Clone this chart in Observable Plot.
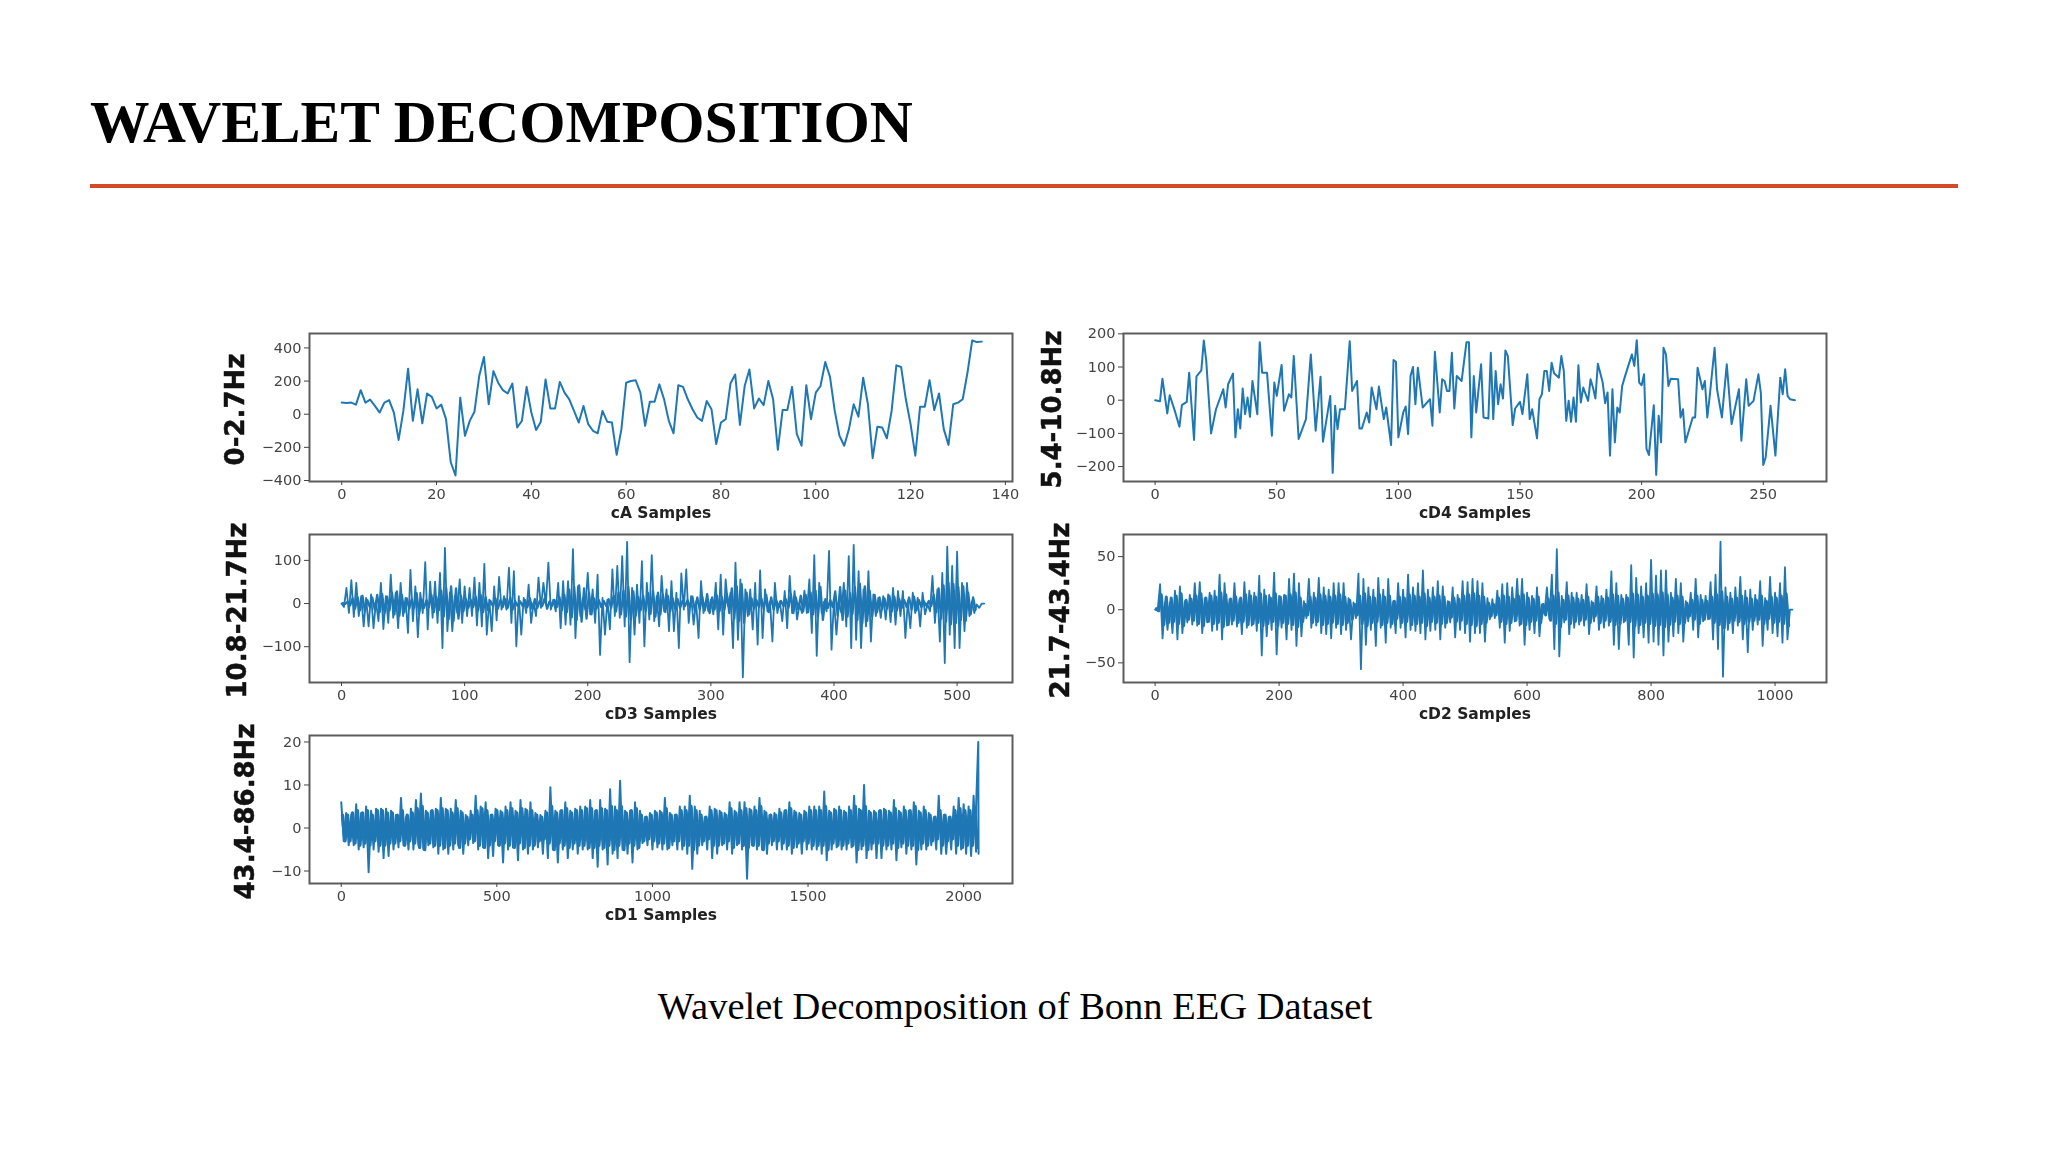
<!DOCTYPE html>
<html><head><meta charset="utf-8">
<script src="https://cdn.jsdelivr.net/npm/d3@7"></script>
<script src="https://cdn.jsdelivr.net/npm/@observablehq/plot@0.6"></script>
<style>
html,body{margin:0;padding:0;background:#fff;}
#page{position:relative;width:2048px;height:1152px;overflow:hidden;background:#fff;}
#title{position:absolute;left:90px;top:85px;font:bold 59.5px "Liberation Serif",serif;color:#000;white-space:nowrap;line-height:74px;}
#rule{position:absolute;left:90px;top:184px;width:1868px;height:4px;background:#d24a26;}
#caption{position:absolute;left:0;width:2030px;top:983px;text-align:center;font:38.5px "Liberation Serif",serif;color:#000;line-height:46px;}
.panel{position:absolute;filter:blur(0.6px);}
</style></head><body>
<div id="page">
<div id="title">WAVELET DECOMPOSITION</div>
<div id="rule"></div>
<div id="caption">Wavelet Decomposition of Bonn EEG Dataset</div>
</div>
<script>
const cAY=[70,68,70,58,145,70,88,50,10,70,85,10,-155,20,275,-40,150,-55,125,105,35,58,-30,-290,-370,100,-130,-40,15,230,345,60,260,190,145,125,185,-80,-40,165,10,-95,-45,210,35,35,195,130,90,20,-50,50,-60,-100,-115,20,-45,-50,-245,-90,190,200,205,130,-70,75,75,180,90,-40,-115,175,165,90,30,-20,-40,80,30,-180,-50,-30,185,240,-65,170,270,35,95,55,200,90,-215,25,25,165,-120,-190,175,-30,130,170,315,225,20,-130,-190,-90,60,-15,220,60,-265,-75,-80,-145,20,295,285,90,-60,-250,45,45,205,25,125,-90,-185,60,70,90,250,445,435,438];

const cD4X=[0,2,3,5,6,8,10,11,13,14,16,17,19,20,21,23,25,28,29,30,32,33,34,35,36,37,38,39,40,42,43,44,46,48,49,50,52,53,55,56,57,59,62,64,66,68,69,72,73,74,75,76,78,80,81,83,84,85,87,88,89,91,92,94,95,97,98,99,100,102,103,104,105,106,107,108,110,113,114,115,117,118,119,120,121,122,123,124,126,128,129,130,131,132,134,135,137,138,139,140,141,142,143,144,145,147,148,150,151,153,154,155,157,158,159,160,161,162,163,164,166,167,168,169,170,171,172,173,174,175,176,178,179,180,181,182,184,185,186,187,188,189,190,191,192,193,196,197,198,199,200,201,202,203,205,206,207,208,209,210,211,212,215,216,217,218,221,222,223,225,226,227,228,230,231,233,235,237,238,240,241,243,244,246,248,249,250,251,253,255,257,258,259,260,261,263];
const cD4Y=[0,-3,65,-40,15,-30,-80,-15,-5,83,-120,72,90,180,120,-100,-28,33,-22,48,80,-112,-27,-85,35,-42,8,-50,58,-42,175,83,83,-107,53,13,106,-32,18,8,133,-117,-57,138,-92,71,-125,13,-219,-17,-87,-27,-27,178,28,58,-85,-85,-37,-67,38,-27,41,-57,-22,-135,121,116,-112,-37,-19,-102,73,100,-12,98,-22,3,-77,146,-37,63,58,28,28,143,-25,73,58,175,175,-112,73,-37,108,-52,-55,143,-57,88,-12,48,5,150,133,-75,-25,-5,-42,78,-57,-27,-115,3,18,88,88,28,113,81,68,133,88,-62,-2,-65,8,-65,105,-7,38,-2,63,38,5,110,53,-9,23,-167,33,-127,-22,-37,43,68,138,103,181,53,45,78,-147,-165,-15,-225,-47,-127,158,138,43,65,63,-52,-27,-127,-52,-52,98,33,58,-52,13,158,33,-52,108,-72,-37,33,-122,63,-17,-2,78,23,-195,-172,-17,-167,68,18,93,13,3,0];

const cD3Step=4;
const cD3Top=[0,36,54,48,17,13,21,5,48,17,67,25,48,13,78,40,25,96,51,51,71,129,25,17,56,40,36,60,48,92,9,40,62,17,83,75,17,13,44,2,60,48,95,9,48,52,52,126,40,13,71,33,67,13,9,79,87,110,143,36,44,98,48,112,17,64,33,52,25,70,79,17,5,52,5,9,48,67,56,25,95,56,33,33,48,77,33,5,48,5,29,64,29,-2,30,56,112,48,5,122,9,2,48,110,136,75,33,75,21,13,17,21,36,29,29,5,25,13,25,-2,64,33,71,132,87,120,48,48,5,-2,0];
const cD3Bottom=[-8,-22,-31,-29,-53,-53,-57,-41,-59,-45,-33,-57,-29,-68,-41,-78,-22,-60,-33,-45,-103,-64,-64,-22,-45,-29,-29,-51,-53,-72,-64,-39,-14,-14,-45,-99,-72,-22,-45,-29,-10,-2,-14,-18,-57,-49,-49,-80,-29,-14,-25,-45,-119,-72,-60,-29,-33,-53,-136,-72,-45,-99,-37,-41,-53,-18,-64,-64,-103,-14,-45,-49,-80,-22,-18,-25,-60,-72,-6,-103,-84,-171,-29,-60,-95,-80,-18,-88,-22,-41,-57,-22,-37,-22,-22,-68,-121,-22,-18,-107,-72,-22,-53,-103,-84,-103,-53,-88,-29,-33,-37,-43,-49,-29,-80,-57,-22,-53,-25,-18,-45,-88,-138,-72,-103,-103,-64,-29,-22,-10,0];
const cD3Mass=[1,4,12,15,18,8,14,20,22,16,25,28,20,12,10,24,10,8,20,16,30,36,40,35,18,10,8,16,20,15,6,12,8,10,14,6,5,8,12,10,6,12,5,8,15,20,32,38,42,35,25,12,8,6,10,18,25,30,38,28,15,18,24,30,25,20,18,12,10,6,8,16,14,16,22,14,18,14,22,35,40,45,25,12,8,12,20,14,8,6,10,22,14,18,20,25,30,38,10,8,28,38,30,24,38,46,40,30,20,14,12,18,16,10,8,14,16,8,5,6,20,35,42,48,45,38,40,25,14];

const cD2Step=8;
const cD2Top=[0,24,7,7,18,22,8,14,25,26,11,16,18,33,25,10,25,10,26,18,16,32,19,14,35,13,14,29,34,25,8,29,16,30,21,19,25,25,25,11,7,34,29,21,19,30,19,29,8,25,19,33,21,25,37,19,21,27,22,8,21,14,27,26,29,27,25,11,10,18,24,25,21,29,29,16,13,21,5,21,33,57,13,26,16,16,14,24,8,22,13,19,36,25,14,14,42,30,22,25,47,32,37,37,16,29,25,8,16,29,14,13,26,33,64,21,16,21,31,18,19,14,27,11,31,16,25,40,0];
const cD2Bottom=[-1,-27,-19,-22,-28,-22,-12,-14,-15,-22,-12,-20,-19,-28,-15,-14,-16,-23,-17,-15,-20,-43,-25,-19,-42,-17,-28,-19,-34,-25,-8,-17,-15,-22,-23,-27,-17,-23,-19,-28,-8,-56,-33,-19,-34,-17,-31,-17,-22,-17,-26,-19,-20,-22,-28,-20,-19,-28,-17,-12,-26,-19,-22,-30,-22,-22,-30,-9,-8,-17,-31,-20,-11,-15,-33,-19,-22,-25,-4,-9,-37,-44,-12,-23,-17,-14,-15,-23,-11,-19,-17,-15,-33,-37,-12,-33,-45,-22,-26,-31,-30,-33,-43,-30,-25,-22,-30,-11,-19,-26,-11,-9,-28,-37,-63,-19,-22,-15,-28,-40,-19,-14,-34,-19,-22,-25,-31,-28,0];
const cD2Mass=[1,14,12,11,13,15,9,10,13,15,11,13,12,16,14,10,12,11,14,13,12,15,13,11,15,12,13,14,16,11,5,12,11,14,13,12,13,14,12,9,5,13,15,12,11,14,12,13,8,12,11,14,13,12,15,11,12,13,12,7,11,10,13,14,15,13,12,6,5,11,13,12,10,13,14,11,10,12,5,10,13,16,9,13,11,10,9,12,6,12,10,11,14,13,10,11,15,14,12,13,15,14,16,14,11,13,12,6,9,13,9,8,12,14,17,12,10,11,13,11,10,9,13,8,12,11,13,15];

const cD1Step=16;
const cD1Top=[6,3.5,3,5.5,3.5,5,4,4.5,4.5,4.5,4,3,7,2.5,4.5,6.5,8,4,4,4.5,7,4.5,4.5,6.5,4,3,4,7.5,5,6,3,4.5,4,5,6,4,6.5,4.5,6,3.5,3,4,9.5,4,4,6,4,4.5,5,5,6.5,4,6.5,4.5,9,5,11,4,4,6,4,2.5,3.5,4,4,7,3.5,3,5,5,7.5,5,4,2.5,5,4.5,4,3.5,6,4,6,6,4.5,5,7,4,3,3.5,4.5,4,6,4,3.5,4,5,5,5,8.5,4,4.5,5,4,5,7.5,4.5,10,4,4,4,4.5,4,6.5,4,5,4,6,4,5,3.5,2.5,7.5,3,2.5,5,7,5.5,5,7.5];
const cD1Bottom=[-3,-4,-4,-5,-4.5,-10.3,-5,-5.5,-7,-6.5,-5,-4.5,-4,-5,-5,-4,-5,-4,-4.5,-6,-5,-6,-5,-4,-6,-4,-3.5,-5,-4.5,-7,-6.5,-4,-8,-5,-4.5,-7.5,-5,-6,-5,-4.5,-6,-7,-5,-8,-5,-7,-5,-6,-5,-5,-7,-9,-5,-8.5,-6,-7,-5,-6,-8,-5,-3.5,-4,-5,-4.5,-5,-5,-4,-5,-5,-6,-9.5,-6,-4,-5,-7,-6,-4,-5,-6,-4,-5,-11.8,-4,-5,-5,-6,-4,-5,-5,-5,-6,-4.5,-6,-5,-5,-5,-6,-7.5,-5,-4.5,-5,-5,-4.5,-8,-5,-7,-5,-7,-7,-5,-5,-7.5,-4.5,-6,-5,-8.5,-5,-5,-4,-5,-6,-6,-5,-6,-5,-6,-6.5,-5.5];
const cD1Mass=[3,3,3.5,4,3.5,4,3,4,4,3.5,3.5,3,4,3,3.5,4.5,5,3.5,4,4,4.5,4,3.5,4.5,3.5,2.5,3,4,4.5,4,3,4,3.5,4,4.5,3.5,4.5,4,4,3,2.5,3.5,5,3.5,4,4.5,3.5,4,4,4.5,4.5,4,4.5,4,5,4,5,3.5,4,4.5,3,2.5,3,3.5,3.5,4.5,3,3,4,4,5,4,3,2.5,4,4,3.5,3,4.5,3.5,4,4.5,4,4,5,3.5,3,3,3.5,4,4.5,3.5,3,3.5,4,4,4,5,3.5,4,4,3.5,4,5,4,5,3.5,3.5,4,4,3.5,4.5,3.5,4,4,5,3.5,4,3,2.5,4,3,2.5,4,4.5,4,4,4.5];
const cD1EndX=[2040,2047,2048], cD1EndY=[5,20,-6];

const cAXTicks=[0,20,40,60,80,100,120,140], cAYTicks=[-400,-200,0,200,400];
const cD4XTicks=[0,50,100,150,200,250], cD4YTicks=[-200,-100,0,100,200];
const cD3XTicks=[0,100,200,300,400,500], cD3YTicks=[-100,0,100];
const cD2XTicks=[0,200,400,600,800,1000], cD2YTicks=[-50,0,50];
const cD1XTicks=[0,500,1000,1500,2000], cD1YTicks=[-10,0,10,20];

const BLUE="#1f77b4";
const minus=d=>String(d).replace("-","\u2212");
const indexed=ys=>ys.map((y,i)=>({x:i,y}));
const pairs=(xs,ys)=>d3.zip(xs,ys).map(([x,y])=>({x,y}));
const zigzag=(top,bottom,step)=>top.flatMap((t,i)=>[{x:i*step,y:t},{x:i*step+step/2,y:bottom[i]}]);
const massZigzag=(m,step)=>m.flatMap((v,i)=>[{x:i*step+step/4,y:v},{x:i*step+3*step/4,y:-v}]);

const W=703,H=148,ML=92,MR=20,MT=6,MB=50;
function panel({left,top,rows,mass,xDomain,yDomain,xTicks,yTicks,xLabel,freq,freqDx,sw,massSw}){
  const svg=Plot.plot({
    width:W+ML+MR,height:H+MT+MB,marginLeft:ML,marginRight:MR,marginTop:MT,marginBottom:MB,
    x:{domain:xDomain},y:{domain:yDomain},
    style:{background:"transparent",overflow:"visible",fontFamily:"DejaVu Sans",color:"#333"},
    marks:[
      mass?Plot.line(mass,{x:"x",y:"y",stroke:BLUE,strokeWidth:massSw,clip:true}):null,
      Plot.line(rows,{x:"x",y:"y",stroke:BLUE,strokeWidth:sw,clip:true}),
      Plot.frame({stroke:"#5c5c5c",strokeWidth:2}),
      Plot.axisX({ticks:xTicks,tickFormat:minus,label:null,tickSize:4,tickPadding:3,fontSize:14.5,stroke:"#444",fill:"#444"}),
      Plot.axisY({ticks:yTicks,tickFormat:minus,label:null,tickSize:5,tickPadding:3,fontSize:14.5,stroke:"#444",fill:"#444"}),
      Plot.text([xLabel],{frameAnchor:"bottom",dy:36,fontSize:15.5,fontWeight:"bold",fill:"#222",fontFamily:"DejaVu Sans"}),
      Plot.text([freq],{frameAnchor:"left",textAnchor:"middle",dx:freqDx,dy:2,rotate:-90,fontSize:26,fontWeight:"bold",fill:"#111",stroke:"#111",strokeWidth:0.5,fontFamily:"DejaVu Sans"})
    ]
  });
  const d=document.createElement("div");
  d.className="panel";
  d.style.left=(left-ML)+"px";d.style.top=(top-MT)+"px";
  d.appendChild(svg);
  document.getElementById("page").appendChild(d);
}
const LX=309,RX=1123,Y1=333,Y2=534,Y3=735;
panel({left:LX,top:Y1,rows:indexed(cAY),xDomain:[-6.8,141.5],yDomain:[-406,487],xTicks:cAXTicks,yTicks:cAYTicks,xLabel:"cA Samples",freq:"0-2.7Hz",freqDx:-74,sw:2});
panel({left:RX,top:Y1,rows:pairs(cD4X,cD4Y),xDomain:[-13,276],yDomain:[-245,201],xTicks:cD4XTicks,yTicks:cD4YTicks,xLabel:"cD4 Samples",freq:"5.4-10.8Hz",freqDx:-71,sw:2});
panel({left:LX,top:Y2,rows:zigzag(cD3Top,cD3Bottom,cD3Step),mass:massZigzag(cD3Mass,cD3Step),xDomain:[-26,545],yDomain:[-183,160],xTicks:cD3XTicks,yTicks:cD3YTicks,xLabel:"cD3 Samples",freq:"10.8-21.7Hz",freqDx:-72,sw:1.8,massSw:2.3});
panel({left:RX,top:Y2,rows:zigzag(cD2Top,cD2Bottom,cD2Step),mass:massZigzag(cD2Mass,cD2Step),xDomain:[-51,1083],yDomain:[-68.5,70.8],xTicks:cD2XTicks,yTicks:cD2YTicks,xLabel:"cD2 Samples",freq:"21.7-43.4Hz",freqDx:-63,sw:1.8,massSw:3});
panel({left:LX,top:Y3,rows:[...zigzag(cD1Top,cD1Bottom,cD1Step),...pairs(cD1EndX,cD1EndY)],mass:massZigzag(cD1Mass,cD1Step),xDomain:[-102,2157],yDomain:[-12.9,21.5],xTicks:cD1XTicks,yTicks:cD1YTicks,xLabel:"cD1 Samples",freq:"43.4-86.8Hz",freqDx:-64,sw:2,massSw:3.4});
</script>
</body></html>
